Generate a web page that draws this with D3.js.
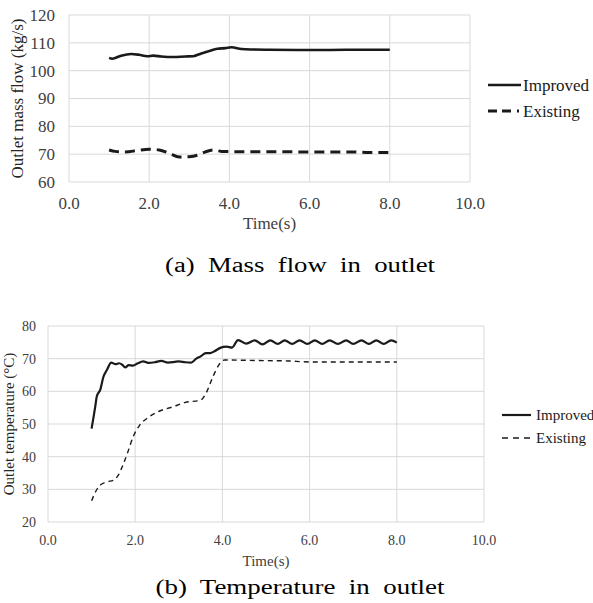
<!DOCTYPE html>
<html>
<head>
<meta charset="utf-8">
<script src="https://cdn.jsdelivr.net/npm/d3@7"></script>
<style>
    body { margin: 0; background: #fff; }
    svg text { font-family: 'Liberation Serif', 'DejaVu Serif', serif; }
    .grid line { stroke: #d9d9d9; stroke-width: 1; }
    .tick-label { fill: #404040; }
</style>
</head>
<body>
<svg id="fig" width="593" height="603" font-family="Liberation Serif, DejaVu Serif, serif"></svg>
<script>
// ---- data ----
var timeTicks = [0, 2, 4, 6, 8, 10];
var massTicks = [60, 70, 80, 90, 100, 110, 120];
var tempTicks = [20, 30, 40, 50, 60, 70, 80];

var massImprovedT = [1.0, 1.08, 1.3, 1.55, 1.75, 1.95, 2.1, 2.3, 2.6, 2.9, 3.1, 3.3, 3.5, 3.7, 3.9, 4.05, 4.3, 4.6, 5.0, 6.0, 7.0, 8.0];
var massImproved  = [104.6, 104.3, 105.4, 106.0, 105.7, 105.2, 105.4, 105.1, 104.9, 105.1, 105.2, 106.2, 107.1, 107.9, 108.1, 108.4, 107.8, 107.6, 107.5, 107.4, 107.5, 107.5];

var massExistingT = [1.0, 1.15, 1.4, 1.7, 2.0, 2.25, 2.5, 2.75, 3.0, 3.2, 3.4, 3.6, 3.8, 4.2, 5.0, 6.0, 7.0, 7.5, 8.0];
var massExisting  = [71.5, 71.0, 70.8, 71.3, 71.8, 71.5, 70.3, 69.0, 69.1, 69.6, 70.8, 71.5, 71.0, 70.9, 70.9, 70.8, 70.8, 70.6, 70.6];

var tempImprovedT = [1.0, 1.08, 1.12, 1.2, 1.27, 1.35, 1.45, 1.55, 1.63, 1.7, 1.77, 1.85, 1.95, 2.05, 2.18, 2.3, 2.45, 2.6, 2.75, 2.9, 3.0, 3.15, 3.28, 3.4, 3.5, 3.62, 3.72, 3.82, 3.95, 4.1, 4.22, 4.36, 4.55, 4.74, 4.92, 5.1, 5.27, 5.43, 5.6, 5.77, 5.95, 6.12, 6.29, 6.46, 6.65, 6.84, 7.0, 7.19, 7.36, 7.53, 7.7, 7.87, 8.0];
var tempImproved  = [48.6, 55.0, 58.5, 60.5, 64.4, 66.5, 68.8, 68.3, 68.6, 68.2, 67.3, 68.0, 67.9, 68.5, 69.2, 68.7, 68.9, 69.3, 68.8, 69.0, 69.2, 68.9, 68.8, 70.0, 70.7, 71.7, 71.7, 72.3, 73.3, 73.7, 73.4, 75.7, 74.6, 75.6, 74.4, 75.6, 74.5, 75.6, 74.5, 75.6, 74.5, 75.6, 74.5, 75.6, 74.5, 75.6, 74.5, 75.6, 74.5, 75.6, 74.5, 75.6, 74.9];

var tempExistingT = [1.0, 1.1, 1.2, 1.35, 1.5, 1.62, 1.72, 1.82, 1.95, 2.1, 2.3, 2.55, 2.85, 3.15, 3.5, 3.62, 3.78, 3.93, 4.05, 4.5, 5.0, 5.5, 6.0, 7.0, 8.0];
var tempExisting  = [26.5, 29.5, 31.3, 32.3, 32.8, 34.5, 37.5, 41.0, 46.0, 49.6, 52.0, 53.9, 55.2, 56.6, 57.3, 59.3, 64.4, 68.3, 69.6, 69.5, 69.4, 69.3, 69.0, 69.0, 69.0];

var seriesNames = ["Improved", "Existing"];

function zip(ts, vs) {
    return ts.map(function(t, i) { return {t: t, v: vs[i]}; });
}

var svg = d3.select("#fig");

function panel(opts) {
    var g = svg.append("g")
        , x = d3.scaleLinear().domain([0, 10]).range(opts.xRange)
        , y = d3.scaleLinear().domain(opts.yDomain).range(opts.yRange)
        ;

    // grid
    var grid = g.append("g").attr("class", "grid");
    grid.selectAll("line.h")
        .data(opts.yTicks)
        .enter().append("line")
        .attr("x1", x(0)).attr("x2", x(10))
        .attr("y1", function(d) { return y(d); })
        .attr("y2", function(d) { return y(d); });
    grid.selectAll("line.v")
        .data(timeTicks)
        .enter().append("line")
        .attr("y1", y.range()[0]).attr("y2", y.range()[1])
        .attr("x1", function(d) { return x(d); })
        .attr("x2", function(d) { return x(d); });

    // tick labels
    g.selectAll("text.xt")
        .data(timeTicks)
        .enter().append("text")
        .attr("class", "tick-label")
        .attr("x", function(d) { return x(d); })
        .attr("y", y.range()[0] + opts.xLabelDy)
        .attr("text-anchor", "middle")
        .style("font-size", opts.tickSize + "px")
        .text(d3.format(".1f"));

    g.selectAll("text.yt")
        .data(opts.yTicks)
        .enter().append("text")
        .attr("class", "tick-label")
        .attr("x", x(0) - opts.yLabelDx)
        .attr("y", function(d) { return y(d); })
        .attr("dy", "0.35em")
        .attr("text-anchor", "end")
        .style("font-size", opts.tickSize + "px")
        .text(function(d) { return d; });

    g.append("text")
        .attr("class", "tick-label")
        .attr("x", (x(0) + x(10)) / 2)
        .attr("y", y.range()[0] + opts.xTitleDy)
        .attr("text-anchor", "middle")
        .style("font-size", opts.xTitleSize + "px")
        .text("Time(s)");

    g.append("text")
        .attr("transform", "translate(" + opts.yTitleX + "," + ((y.range()[0] + y.range()[1]) / 2) + ") rotate(-90)")
        .attr("dy", "0.35em")
        .attr("text-anchor", "middle")
        .style("font-size", opts.yTitleSize + "px")
        .style("fill", "#262626")
        .text(opts.yTitle);

    var line = d3.line()
        .curve(d3.curveMonotoneX)
        .x(function(d) { return x(d.t); })
        .y(function(d) { return y(d.v); });

    g.append("path")
        .datum(opts.existing)
        .attr("fill", "none")
        .attr("stroke", "#1a1a1a")
        .attr("stroke-width", opts.existingWidth)
        .attr("stroke-dasharray", opts.dash)
        .attr("d", line);

    g.append("path")
        .datum(opts.improved)
        .attr("fill", "none")
        .attr("stroke", "#1a1a1a")
        .attr("stroke-width", opts.improvedWidth)
        .attr("stroke-linejoin", "round")
        .attr("d", line);

    // legend
    var lg = g.append("g").attr("transform", "translate(" + opts.legend[0] + "," + opts.legend[1] + ")");
    seriesNames.forEach(function(name, i) {
        lg.append("line")
            .attr("x1", 0).attr("x2", opts.legendLen)
            .attr("y1", i * opts.legendGap).attr("y2", i * opts.legendGap)
            .attr("stroke", "#1a1a1a")
            .attr("stroke-width", i == 0 ? opts.improvedWidth : opts.existingWidth)
            .attr("stroke-dasharray", i == 0 ? null : opts.legendDash);
        lg.append("text")
            .attr("x", opts.legendLen + opts.legendTextDx)
            .attr("y", i * opts.legendGap)
            .attr("dy", "0.35em")
            .style("font-size", opts.legendSize + "px")
            .style("fill", "#1a1a1a")
            .text(name);
    });

    svg.append("text")
        .attr("x", opts.caption[0])
        .attr("y", opts.caption[1])
        .attr("text-anchor", "middle")
        .attr("textLength", opts.captionLen)
        .attr("lengthAdjust", "spacingAndGlyphs")
        .style("font-size", opts.captionSize + "px")
        .style("white-space", "pre")
        .style("fill", "#000")
        .text(opts.captionText);
}

panel({
    xRange: [69, 470], yDomain: [60, 120], yRange: [182, 15], yTicks: massTicks,
    tickSize: 17, xLabelDy: 27, yLabelDx: 14, xTitleDy: 47, xTitleSize: 17,
    yTitle: "Outlet mass flow (kg/s)", yTitleX: 17, yTitleSize: 17,
    improved: zip(massImprovedT, massImproved), existing: zip(massExistingT, massExisting),
    improvedWidth: 2.6, existingWidth: 3, dash: "10,6",
    legend: [488, 85], legendLen: 33, legendGap: 26, legendDash: "9,5,9,6,2", legendTextDx: 2, legendSize: 17,
    caption: [300, 272], captionLen: 270, captionSize: 20, captionText: "(a)  Mass  flow  in  outlet"
});

panel({
    xRange: [48, 484], yDomain: [20, 80], yRange: [522, 326], yTicks: tempTicks,
    tickSize: 14, xLabelDy: 23, yLabelDx: 12, xTitleDy: 44, xTitleSize: 15,
    yTitle: "Outlet temperature (°C)", yTitleX: 9, yTitleSize: 15,
    improved: zip(tempImprovedT, tempImproved), existing: zip(tempExistingT, tempExisting),
    improvedWidth: 2.2, existingWidth: 1.4, dash: "5,4",
    legend: [502, 415], legendLen: 29, legendGap: 23, legendDash: "6,5", legendTextDx: 5, legendSize: 15,
    caption: [300, 594], captionLen: 289, captionSize: 22, captionText: "(b)  Temperature  in  outlet"
});
</script>
</body>
</html>
